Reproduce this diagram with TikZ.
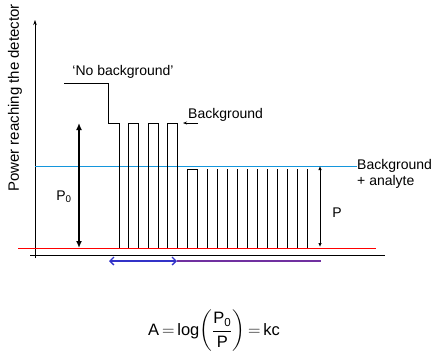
\documentclass[tikz,border=0pt]{standalone}
\usepackage{amsmath}
\usepackage{fontspec}
\setmainfont{Liberation Sans}
\usetikzlibrary{arrows.meta}
\definecolor{cyanline}{RGB}{20,150,220}
\definecolor{bluearr}{RGB}{50,50,200}
\definecolor{purpleline}{RGB}{112,48,160}
\tikzset{
  lbl/.style={inner sep=0pt, font=\fontsize{14}{16}\selectfont},
  sig/.style={line width=0.7pt, black},
}
\begin{document}
\begin{tikzpicture}[x=1pt,y=-1pt]
\useasboundingbox (0,0) rectangle (435,362);
% axes
\coordinate (yb) at (35,258);
\coordinate (yt) at (35,20);
\coordinate (xl) at (30,255);
\coordinate (xr) at (385,255);
\draw[line width=0.6pt,-{Stealth[length=5pt,width=3.5pt]}] (yb) -- (yt);
\draw[line width=0.6pt] (xl) -- (xr);
% reference lines
\coordinate (rl) at (18,248);
\coordinate (rr) at (376,248);
\draw[red, line width=0.9pt] (rl) -- (rr);
\coordinate (bl) at (35,166.5);
\coordinate (br) at (357,166.5);
\draw[cyanline, line width=1pt] (bl) -- (br);
% signal
\draw[sig] (64,83) -- (108,83) -- (108,123) -- (119,123) -- (119,248);
\foreach \x in {128,148,167} {
  \draw[sig] (\x,248) -- (\x,123) -- (\x+10,123) -- (\x+10,248);
}
\draw[sig] (187,248) -- (187,169) -- (197,169) -- (197,248);
\foreach \x in {207,217,227,237,247,257,267,277,287,297,307} {
  \draw[sig] (\x,248) -- (\x,169);
}
% P0 arrow
\coordinate (p0t) at (79,123);
\coordinate (p0b) at (79,248);
\draw[line width=1.6pt,{Latex[length=7pt,width=6pt]}-{Latex[length=7pt,width=6pt]}] (p0t) -- (p0b);
\node[lbl] (p0lbl) at (64,197) {P\textsubscript{0}};
% P arrow
\coordinate (pt) at (320,166);
\coordinate (pb) at (320,247);
\draw[line width=0.8pt,{Latex[length=4pt,width=3.5pt]}-{Latex[length=4pt,width=3.5pt]}] (pt) -- (pb);
\node[lbl] (plbl) at (337,213) {P};
% labels
\node[lbl] (nobg) at (123,72) {‘No background’};
\node[lbl, anchor=west] (bg) at (188,115) {Background};
\coordinate (bgtip) at (183,123);
\coordinate (bgtail) at (198,123);
\draw[line width=0.6pt,-{Stealth[length=4pt,width=3pt]}] (bgtail) -- (bgtip);
\node[lbl, anchor=west, align=left] (bga) at (357,174) {Background\\+ analyte};
\node[inner sep=0pt, font=\fontsize{15}{17}\selectfont, rotate=90] (ylbl) at (15,98) {Power reaching the detector};
% bottom arrows
\coordinate (ba) at (109,261);
\coordinate (bm) at (177,261);
\coordinate (be) at (321,261);
\draw[bluearr, line width=1.3pt,{Straight Barb[length=4pt,width=8pt]}-{Straight Barb[length=4pt,width=8pt]}] (ba) -- (bm);
\draw[purpleline, line width=1.5pt] (bm) -- (be);
% equation
\node[inner sep=0pt, font=\fontsize{16.5}{19}\selectfont] (eq) at (214,331)
  {\thickmuskip=3mu $\text{A} = \text{log}\!\left(\dfrac{\text{P}_{\text{0}}}{\text{P}}\right) = \text{kc}$};
\end{tikzpicture}
\end{document}
